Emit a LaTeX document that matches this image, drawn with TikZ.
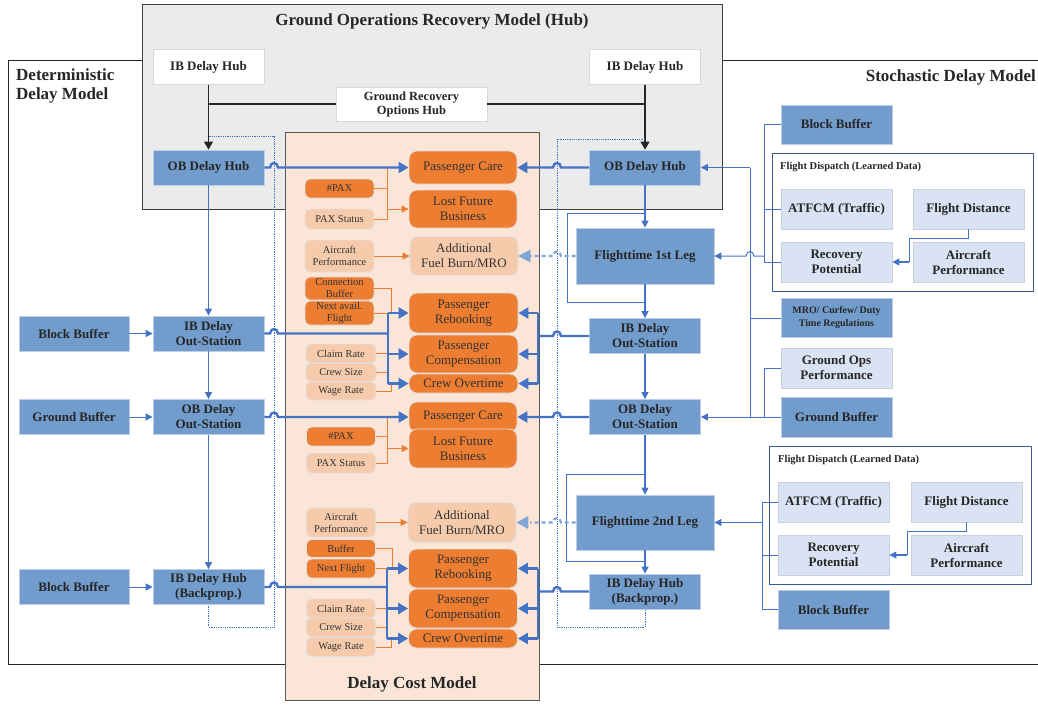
\documentclass[tikz,border=0pt]{standalone}
\usepackage{fontspec}
\setmainfont{Liberation Serif}
\usetikzlibrary{arrows.meta}
\definecolor{bfill}{RGB}{114,156,204}
\definecolor{bbord}{RGB}{190,206,230}
\definecolor{bline}{RGB}{68,114,196}
\definecolor{lbfill}{RGB}{218,227,243}
\definecolor{lbbord}{RGB}{200,208,222}
\definecolor{ofill}{RGB}{237,125,49}
\definecolor{lofill}{RGB}{246,203,172}
\definecolor{obg}{RGB}{251,229,214}
\definecolor{gbg}{RGB}{235,235,235}
\definecolor{dashb}{RGB}{127,166,214}
\definecolor{tdark}{RGB}{38,38,38}
\definecolor{fdbord}{RGB}{59,90,154}
\newcommand{\fsz}[2]{\fontsize{#1}{#2}\selectfont}
\begin{document}
\begin{tikzpicture}[x=1pt,y=-1pt,
 base/.style={align=center, inner sep=1pt, text=tdark},
 bbox/.style={base, fill=bfill, draw=bbord, line width=0.8pt, minimum width=111pt, minimum height=35pt, font=\bfseries\fsz{13}{15}},
 wbox/.style={base, fill=white, draw=black!15, line width=0.8pt, minimum width=111pt, minimum height=35pt, font=\bfseries\fsz{13}{15}},
 lbox/.style={base, fill=lbfill, draw=lbbord, line width=0.8pt, minimum width=111pt, minimum height=40pt, font=\bfseries\fsz{13}{15}},
 ocost/.style={base, fill=ofill, draw=black!12, line width=0.8pt, rounded corners=8pt, minimum width=108pt, font=\fsz{13}{15}, text=black!80},
 lcost/.style={ocost, fill=lofill},
 oin/.style={base, fill=ofill, draw=black!12, line width=0.8pt, rounded corners=5pt, minimum width=69pt, font=\fsz{10.5}{12}, text=black!80},
 lin/.style={oin, fill=lofill},
 ttl/.style={font=\bfseries\fsz{17}{19}, text=tdark, inner sep=0pt},
 bthick/.style={draw=bline, line width=2.4pt},
 bthin/.style={draw=bline, line width=1pt},
 tipT/.style={-{Triangle[length=10pt,width=11pt]}},
 tipt/.style={-{Triangle[length=7pt,width=7pt]}},
 oline/.style={draw=ofill, line width=1pt},
 dotb/.style={draw=bline, line width=0.8pt, densely dotted},
 dashl/.style={draw=dashb, line width=2.2pt, dash pattern=on 4pt off 3pt},
 blkl/.style={draw=black!85, line width=1.2pt}
]
\useasboundingbox (0,0) rectangle (1038,704);
\fill[white] (0,0) rectangle (1038,704);
% frames
\draw[black!85, line width=1pt] (1038,60) -- (8,60) -- (8,664) -- (1038,664);
\draw[fill=gbg, draw=black!75, line width=1pt] (142,4) rectangle (722,209);
\draw[fill=obg, draw=black!65, line width=1pt] (285,132) rectangle (539,700);
\draw[fdbord, line width=1pt] (772,153) rectangle (1033,291);
\draw[fdbord, line width=1pt] (769,446) rectangle (1031,584);

% titles
\node[ttl] (tGround) at (432,21) {Ground Operations Recovery Model (Hub)};
\node[ttl, anchor=north west, align=left] (tDet) at (16,69) {Deterministic\\Delay Model};
\node[ttl, anchor=east] (tSto) at (1036,77) {Stochastic Delay Model};
\node[ttl] (tCost) at (412,684) {Delay Cost Model};
\node[font=\bfseries\fsz{10.5}{12}, text=tdark, anchor=west, inner sep=0pt] (fdl1) at (780,167) {Flight Dispatch (Learned Data)};
\node[font=\bfseries\fsz{10.5}{12}, text=tdark, anchor=west, inner sep=0pt] (fdl2) at (778,460) {Flight Dispatch (Learned Data)};

% top hub
\node[wbox] (ibhL) at (208.5,67) {IB Delay Hub};
\node[wbox] (ibhR) at (645,67) {IB Delay Hub};
\node[wbox, minimum width=151pt, minimum height=34pt, font=\bfseries\fsz{12.5}{14}] (gro) at (411.5,104) {Ground Recovery\\Options Hub};

% left column
\node[bbox] (obhL) at (208.5,167.5) {OB Delay Hub};
\node[bbox] (iboL) at (208.5,333.5) {IB Delay\\Out-Station};
\node[bbox] (oboL) at (208.5,417) {OB Delay\\Out-Station};
\node[bbox] (ibbL) at (208.5,587) {IB Delay Hub\\(Backprop.)};
\node[bbox, minimum width=110pt] (bb1) at (74,333.5) {Block Buffer};
\node[bbox, minimum width=110pt] (gb1) at (74,417) {Ground Buffer};
\node[bbox, minimum width=110pt] (bb2) at (74,587) {Block Buffer};

% right column
\node[bbox] (obhR) at (645,167.5) {OB Delay Hub};
\node[bbox, minimum width=138pt, minimum height=56pt] (ft1) at (645,256) {Flighttime 1st Leg};
\node[bbox] (iboR) at (645,336) {IB Delay\\Out-Station};
\node[bbox] (oboR) at (645,417) {OB Delay\\Out-Station};
\node[bbox, minimum width=138pt, minimum height=55pt] (ft2) at (645,522.5) {Flighttime 2nd Leg};
\node[bbox] (ibbR) at (645,591.5) {IB Delay Hub\\(Backprop.)};

% far right
\node[bbox, minimum height=39pt] (bbR1) at (836.5,124.5) {Block Buffer};
\node[lbox] (atf1) at (836.5,209) {ATFCM (Traffic)};
\node[lbox] (fdist1) at (968.5,209) {Flight Distance};
\node[lbox] (rp1) at (836.5,262) {Recovery\\Potential};
\node[lbox] (ap1) at (968.5,262) {Aircraft\\Performance};
\node[bbox, minimum height=39pt, font=\bfseries\fsz{10}{13}] (mro) at (836.5,318) {MRO/ Curfew/ Duty\\Time Regulations};
\node[lbox] (gop) at (836.5,368) {Ground Ops\\Performance};
\node[bbox, minimum height=40pt] (gbR) at (836.5,417) {Ground Buffer};
\node[lbox] (atf2) at (833.5,502) {ATFCM (Traffic)};
\node[lbox] (fdist2) at (966.5,502) {Flight Distance};
\node[lbox] (rp2) at (833.5,555) {Recovery\\Potential};
\node[lbox] (ap2) at (966.5,555) {Aircraft\\Performance};
\node[bbox, minimum height=39pt] (bbR2) at (833.5,609.5) {Block Buffer};

% cost model - upper
\node[ocost, minimum height=33pt] (pc1) at (463,167.5) {Passenger Care};
\node[ocost, minimum height=38pt] (lfb1) at (463,209) {Lost Future\\Business};
\node[lcost, minimum height=39pt] (afb1) at (464,256) {Additional\\Fuel Burn/MRO};
\node[ocost, minimum width=109pt, minimum height=40pt] (pr1) at (463.5,313) {Passenger\\Rebooking};
\node[ocost, minimum width=109pt, minimum height=38pt] (pcm1) at (463.5,354) {Passenger\\Compensation};
\node[ocost, minimum width=109pt, minimum height=19pt] (co1) at (463.5,383.5) {Crew Overtime};
\node[oin, minimum height=19pt] (pax1) at (339.5,188.5) {\#PAX};
\node[lin, minimum height=20pt] (pxs1) at (339.5,219) {PAX Status};
\node[lin, minimum height=32pt] (acp1) at (339.5,256) {Aircraft\\Performance};
\node[oin, minimum height=23pt] (cb1) at (339.5,288.5) {Connection\\Buffer};
\node[oin, minimum height=24pt] (naf1) at (339.5,313) {Next avail.\\Flight};
\node[lin, minimum width=70pt, minimum height=19pt] (cr1) at (341,353.5) {Claim Rate};
\node[lin, minimum width=70pt, minimum height=18pt] (cs1) at (341,372.5) {Crew Size};
\node[lin, minimum width=70pt, minimum height=18pt] (wr1) at (341,391) {Wage Rate};

% cost model - lower
\node[ocost, minimum height=30pt] (pc2) at (463,417) {Passenger Care};
\node[ocost, minimum height=39pt] (lfb2) at (463,448.5) {Lost Future\\Business};
\node[lcost, minimum height=40pt] (afb2) at (462,522.5) {Additional\\Fuel Burn/MRO};
\node[ocost, minimum width=109pt, minimum height=39pt] (pr2) at (463,568.5) {Passenger\\Rebooking};
\node[ocost, minimum width=109pt, minimum height=39pt] (pcm2) at (463,608.5) {Passenger\\Compensation};
\node[ocost, minimum width=109pt, minimum height=19pt] (co2) at (463,638.5) {Crew Overtime};
\node[oin, minimum height=19pt] (pax2) at (341,436.5) {\#PAX};
\node[lin, minimum height=20pt] (pxs2) at (341,463) {PAX Status};
\node[lin, minimum height=29pt] (acp2) at (341,522.5) {Aircraft\\Performance};
\node[oin, minimum height=18pt] (buf2) at (341,548.5) {Buffer};
\node[oin, minimum height=19pt] (nf2) at (341,568.5) {Next Flight};
\node[lin, minimum height=19pt] (cr2) at (341,608.5) {Claim Rate};
\node[lin, minimum height=19pt] (cs2) at (341,627.5) {Crew Size};
\node[lin, minimum height=19pt] (wr2) at (341,647) {Wage Rate};

% black hub connectors
\draw[blkl, -{Triangle[length=8pt,width=9pt]}] (ibhL.south) -- (obhL.north);
\draw[blkl, -{Triangle[length=8pt,width=9pt]}] (ibhR.south) -- (obhR.north);
\draw[blkl] (gro.west) -- (gro.west -| ibhL.south);
\draw[blkl] (gro.east) -- (gro.east -| ibhR.south);

% dotted loops
\coordinate (dL) at (208.5,136);
\coordinate (dR) at (645,139);
\draw[dotb] (dL) -- (274,136) -- (274,627) -- (208.5,627) -- (ibbL.south);
\draw[dotb] (dR) -- (557,139) -- (557,627) -- (645,627) -- (ibbR.south);

% left column flow
\draw[bthin, tipt] (obhL.south) -- (iboL.north);
\draw[bthin, tipt] (iboL.south) -- (oboL.north);
\draw[bthin, tipt] (oboL.south) -- (ibbL.north);
\draw[bthin, tipt] (bb1.east) -- (iboL.west);
\draw[bthin, tipt] (gb1.east) -- (oboL.west);
\draw[bthin, tipt] (bb2.east) -- (ibbL.west);

% right column flow
\draw[bthin, line width=1.3pt, tipt] (obhR.south) -- (ft1.north);
\draw[bthin] (645,213) -- (567,213) -- (567,302) -- (645,302);
\draw[bthin, line width=1.3pt, tipt] (ft1.south) -- (iboR.north);
\draw[bthin, line width=1.3pt, tipt] (iboR.south) -- (oboR.north);
\draw[bthin, line width=1.3pt, tipt] (oboR.south) -- (ft2.north);
\draw[bthin] (645,474) -- (566,474) -- (566,561) -- (645,561);
\draw[bthin, line width=1.3pt, tipt] (ft2.south) -- (ibbR.north);

% orange inputs upper
\draw[oline] (pax1.east) -- (387,188.5);
\draw[oline] (pxs1.east) -- (387,219) -- (387,167.5);
\draw[oline, -{Triangle[length=7pt,width=7pt]}] (387,209) -- (lfb1.west);
\draw[oline, -{Triangle[length=7pt,width=7pt]}] (acp1.east) -- (afb1.west);
\draw[oline] (cb1.east) -- (391,288.5) -- (391,313);
\draw[oline] (naf1.east) -- (388,313);
\draw[oline] (cr1.east) -- (388,353.5);
\draw[oline] (cs1.east) -- (388,372.5);
\draw[oline] (wr1.east) -- (391,391) -- (391,383.5);
% orange inputs lower
\draw[oline] (pax2.east) -- (387,436.5);
\draw[oline] (pxs2.east) -- (387,463) -- (387,417);
\draw[oline, -{Triangle[length=7pt,width=7pt]}] (387,448.5) -- (lfb2.west);
\draw[oline, -{Triangle[length=7pt,width=7pt]}] (acp2.east) -- (afb2.west);
\draw[oline] (buf2.east) -- (392,548.5) -- (392,568.5);
\draw[oline] (nf2.east) -- (387,568.5);
\draw[oline] (cr2.east) -- (387,608.5);
\draw[oline] (cs2.east) -- (387,627.5);
\draw[oline] (wr2.east) -- (391,647) -- (391,638.5);

% thick blue, left side
\draw[bthick, tipT] (obhL.east) -- (270,167.5) .. controls (270.5,161.5) and (277.5,161.5) .. (278,167.5) -- (pc1.west);
\draw[bthick] (iboL.east) -- (270,333.5) .. controls (270.5,327.5) and (277.5,327.5) .. (278,333.5) -- (388,333.5);
\draw[bthick] (388,313) -- (388,383.5);
\draw[bthick, tipT] (388,313) -- (pr1.west);
\draw[bthick, tipT] (388,354) -- (pcm1.west);
\draw[bthick, tipT] (388,383.5) -- (co1.west);
\draw[bthick, tipT] (oboL.east) -- (270,417) .. controls (270.5,411) and (277.5,411) .. (278,417) -- (pc2.west);
\draw[bthick] (ibbL.east) -- (270,587) .. controls (270.5,581) and (277.5,581) .. (278,587) -- (387,587);
\draw[bthick] (387,568.5) -- (387,638.5);
\draw[bthick, tipT] (387,568.5) -- (pr2.west);
\draw[bthick, tipT] (387,608.5) -- (pcm2.west);
\draw[bthick, tipT] (387,638.5) -- (co2.west);

% thick blue, right side
\draw[bthick, tipT] (obhR.west) -- (561,167.5) .. controls (560.5,161.5) and (553.5,161.5) .. (553,167.5) -- (pc1.east);
\draw[bthick] (iboR.west) -- (561,336) .. controls (560.5,330) and (553.5,330) .. (553,336) -- (538,336);
\draw[bthick] (538,313) -- (538,383.5);
\draw[bthick, tipT] (538,313) -- (pr1.east);
\draw[bthick, tipT] (538,354) -- (pcm1.east);
\draw[bthick, tipT] (538,383.5) -- (co1.east);
\draw[bthick, tipT] (oboR.west) -- (561,417) .. controls (560.5,411) and (553.5,411) .. (553,417) -- (pc2.east);
\draw[bthick] (ibbR.west) -- (561,591.5) .. controls (560.5,585.5) and (553.5,585.5) .. (553,591.5) -- (538,591.5);
\draw[bthick] (538,568.5) -- (538,638.5);
\draw[bthick, tipT] (538,568.5) -- (pr2.east);
\draw[bthick, tipT] (538,608.5) -- (pcm2.east);
\draw[bthick, tipT] (538,638.5) -- (co2.east);

% dashed fuel burn links
\draw[dashl] (ft1.west) -- (561,256) .. controls (560.5,250) and (553.5,250) .. (553,256) -- (530,256);
\draw[draw=none, fill=dashb] (afb1.east) -- ++(12,-6.5) -- ++(0,13) -- cycle;
\draw[dashl] (ft2.west) -- (561,522.5) .. controls (560.5,516.5) and (553.5,516.5) .. (553,522.5) -- (530,522.5);
\draw[draw=none, fill=dashb] (afb2.east) -- ++(12,-6.5) -- ++(0,13) -- cycle;

% right side thin links
\draw[bthin] (750,167.5) -- (750,417);
\draw[bthin, tipt] (750,167.5) -- (obhR.east);
\draw[bthin] (mro.west) -- (750,318);
\draw[bthin, tipt] (gbR.west) -- (oboR.east);
\draw[bthin] (gop.west) -- (764,368) -- (764,417);
\draw[bthin] (bbR1.west) -- (764,124.5) -- (764,262) -- (rp1.west);
\draw[bthin] (atf1.west) -- (764,209);
\draw[bthin, tipt] (764,256) -- (754,256) .. controls (753.5,250) and (746.5,250) .. (746,256) -- (ft1.east);
\draw[bthin] (fdist1.south) -- (968.5,238) -- (909,238) -- (909,262);
\draw[bthin, line width=1.3pt, tipt] (909,262) -- (rp1.east);
\draw[bthin] (atf2.west) -- (762,502) -- (762,609.5) -- (bbR2.west);
\draw[bthin] (rp2.west) -- (762,555);
\draw[bthin, tipt] (762,522.5) -- (ft2.east);
\draw[bthin] (fdist2.south) -- (966.5,531) -- (907,531) -- (907,555);
\draw[bthin, line width=1.3pt, tipt] (907,555) -- (rp2.east);
\end{tikzpicture}
\end{document}
